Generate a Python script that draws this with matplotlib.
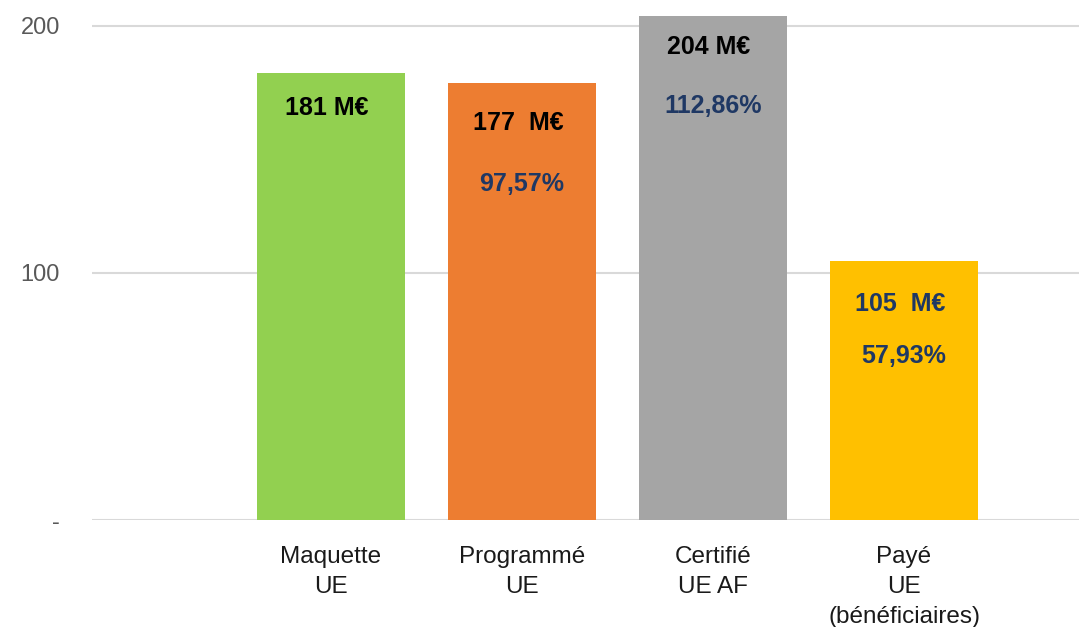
import matplotlib.pyplot as plt

# data
categories = ["Maquette\nUE", "Programmé\nUE", "Certifié\nUE AF", "Payé\nUE\n(bénéficiaires)"]
values = [181, 177, 204, 105]
amount_labels = ["181 M€", "177  M€", "204 M€", "105  M€"]
pct_labels = ["", "97,57%", "112,86%", "57,93%"]
colors = ["#92D050", "#ED7D31", "#A5A5A5", "#FFC000"]

narrow = ["Liberation Sans Narrow", "Liberation Sans", "DejaVu Sans"]
navy = "#1F3864"

fig = plt.figure(figsize=(10.79, 6.27), dpi=100)
ax = fig.add_axes([92 / 1079, 107 / 627, 1 - 92 / 1079, 520 / 627])

x = list(range(len(categories)))
bars = ax.bar(x, values, width=0.775, color=colors, zorder=2)

ax.set_xlim(-1.251, 3.916)
ax.set_ylim(0, 210.5)

# gridlines
ax.set_yticks([0, 100, 200])
ax.set_yticklabels(["-", "100", "200"], family=["Liberation Sans", "DejaVu Sans"],
                   fontsize=17, color="#595959")
ax.yaxis.grid(True, color="#D9D9D9", lw=1.5, zorder=0)
ax.tick_params(axis="y", length=0, pad=23)

ax.set_xticks(x)
ax.set_xticklabels(categories, family=narrow, fontsize=17.5, linespacing=1.45,
                   color="#1a1a1a")
ax.tick_params(axis="x", length=0, pad=19)

for s in ax.spines.values():
    s.set_visible(False)

# value labels (offset in points below bar top)
amount_off = [25, 29, 22, 31]
pct_off = [0, 73, 65, 69]
amount_colors = ["black", "black", "black", navy]
for i, b in enumerate(bars):
    cx = b.get_x() + b.get_width() / 2
    ax.annotate(amount_labels[i], (cx, values[i]), xytext=(-3, -amount_off[i]),
                textcoords="offset points", ha="center", va="center",
                family=narrow, fontweight="bold", fontsize=18,
                color=amount_colors[i])
    if pct_labels[i]:
        ax.annotate(pct_labels[i], (cx, values[i]), xytext=(0, -pct_off[i]),
                    textcoords="offset points", ha="center", va="center",
                    family=narrow, fontweight="bold", fontsize=18, color=navy)

fig.savefig("out.png", dpi=100)
